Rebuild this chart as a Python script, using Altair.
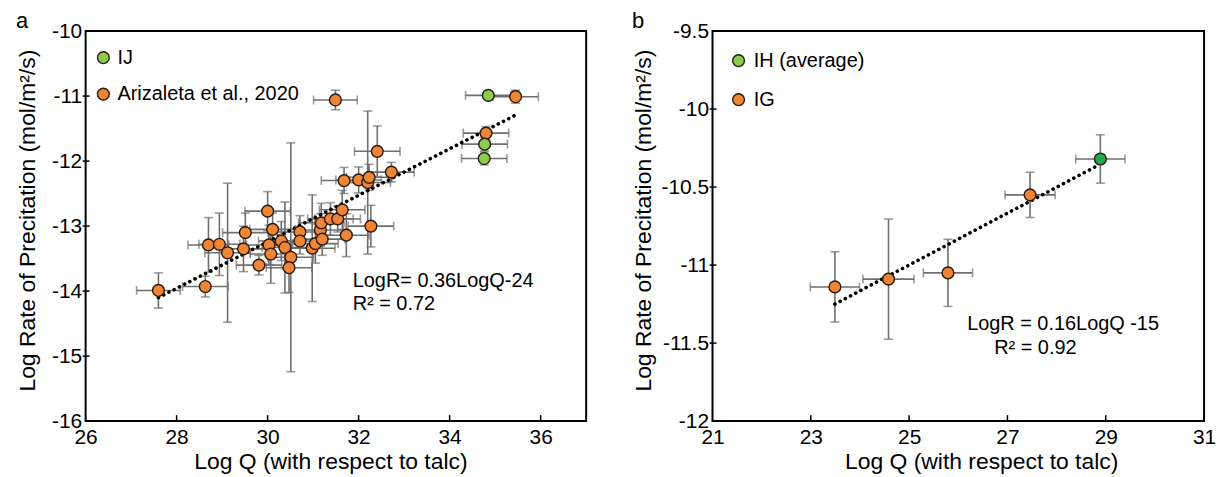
import altair as alt
import pandas as pd

FONT = "Liberation Sans"

# ---------------- Panel a data ----------------
a_q = [27.60, 28.63, 28.70, 28.94, 29.12, 29.51, 29.47, 29.81, 30.00, 30.11,
       30.03, 30.07, 30.30, 30.38, 30.51, 30.47, 30.71, 30.71, 30.98, 31.05,
       31.16, 31.18, 31.20, 31.38, 31.54, 31.64, 31.73, 31.49, 31.68, 32.00,
       32.20, 32.23, 32.27, 32.41, 32.72, 34.80, 35.45]
a_r = [-13.99, -13.93, -13.29, -13.28, -13.41, -13.10, -13.35, -13.60, -12.77, -13.05,
       -13.29, -13.43, -13.23, -13.33, -13.48, -13.64, -13.09, -13.23, -13.34, -13.27,
       -13.06, -12.95, -13.20, -12.89, -12.89, -12.75, -13.14, -11.06, -12.30, -12.29,
       -12.33, -12.25, -13.00, -11.85, -12.17, -11.57, -11.01]
a_qerr = [0.48, 0.50, 0.45, 0.45, 0.50, 0.50, 0.50, 0.50, 0.50, 0.50,
          0.50, 0.45, 0.50, 0.50, 0.50, 0.50, 0.50, 0.50, 0.50, 0.50,
          0.50, 0.50, 0.50, 0.50, 0.50, 0.50, 0.50, 0.48, 0.50, 0.50,
          0.50, 0.50, 0.50, 0.50, 0.50, 0.50, 0.50]
a_rerr = [0.27, 0.16, 0.42, 0.48, 1.07, 0.30, 0.35, 0.15, 0.30, 0.25,
          0.30, 0.45, 0.30, 0.70, 1.76, 0.38, 0.25, 0.20, 0.82, 0.30,
          0.25, 0.30, 0.25, 0.25, 0.20, 0.30, 0.33, 0.15, 0.20, 0.20,
          1.10, 0.20, 0.32, 0.39, 0.15, 0.10, 0.10]
a_ij_q = [34.85, 34.77, 34.76]
a_ij_r = [-10.99, -11.74, -11.96]
a_ij_qerr = [0.50, 0.50, 0.50]
a_ij_rerr = [0.05, 0.10, 0.10]
a_fit_q = [27.60, 35.43]
a_fit_r = [-14.10, -11.30]
a_xticks = [26, 28, 30, 32, 34, 36]
a_yticks = [-16, -15, -14, -13, -12, -11, -10]
a_leg_labels = ["IJ", "Arizaleta et al., 2020"]
a_leg_q = [26.39, 26.39]
a_leg_r = [-10.41, -10.97]
a_leg_tq = 26.70
a_note = ["LogR= 0.36LogQ-24", "R² = 0.72"]
a_note_q = [31.87, 31.87]
a_note_r = [-13.85, -14.20]

# ---------------- Panel b data ----------------
b_ig_q = [23.49, 24.58, 25.79, 27.46]
b_ig_r = [-11.14, -11.09, -11.05, -10.55]
b_ig_qerr = [0.50, 0.52, 0.50, 0.51]
b_ig_rerr = [0.225, 0.385, 0.215, 0.145]
b_ih_q = [28.89]
b_ih_r = [-10.32]
b_ih_qerr = [0.50]
b_ih_rerr = [0.155]
b_fit_q = [23.49, 28.85]
b_fit_r = [-11.25, -10.36]
b_xticks = [21, 23, 25, 27, 29, 31]
b_yticks = [-12, -11.5, -11, -10.5, -10, -9.5]
b_leg_labels = ["IH (average)", "IG"]
b_leg_q = [21.53, 21.53]
b_leg_r = [-9.69, -9.94]
b_leg_tq = 21.84
b_note = ["LogR = 0.16LogQ -15", "R² = 0.92"]
b_note_q = [26.18, 26.73]
b_note_r = [-11.38, -11.53]

ORANGE = "#F08536"
GREEN_A = "#8BCB4F"
GREEN_B = "#1FA94E"
EDGE = "#2a1a0c"
GRAY = "#6f6f6f"

XTITLE = "Log Q (with respect to talc)"
YTITLE = "Log Rate of Precitation (mol/m²/s)"


def panel(main, green, fit, xdom, xticks, ydom, yticks, leg_labels, leg_q, leg_r,
          leg_tq, leg_colors, notes, note_q, note_r, letter, green_color,
          width, height, ytitle_x, xtitle_x):
    m = pd.DataFrame({"q": main[0], "r": main[1], "qe": main[2], "re": main[3]})
    g = pd.DataFrame({"q": green[0], "r": green[1], "qe": green[2], "re": green[3]})
    allp = pd.concat([m, g], ignore_index=True)
    allp["qlo"] = allp.q - allp.qe
    allp["qhi"] = allp.q + allp.qe
    allp["rlo"] = allp.r - allp.re
    allp["rhi"] = allp.r + allp.re

    xs = alt.Scale(domain=xdom, nice=False, zero=False)
    ys = alt.Scale(domain=ydom, nice=False, zero=False)
    xa = alt.Axis(values=xticks, title=XTITLE, labelExpr="'' + datum.value",
                  labelPadding=5, titlePadding=4, titleX=xtitle_x)
    ya = alt.Axis(values=yticks, title=YTITLE, labelExpr="'' + datum.value",
                  labelPadding=4, titleX=ytitle_x, titleY=height / 2 - 6)

    def X(f):
        return alt.X(f, type="quantitative", scale=xs, axis=xa, title=XTITLE)

    def Y(f):
        return alt.Y(f, type="quantitative", scale=ys, axis=ya, title=YTITLE)

    base = alt.Chart(allp)
    vbar = base.mark_rule(color=GRAY, strokeWidth=1.6).encode(
        x=X("q"), y=Y("rlo"), y2="rhi")
    hbar = base.mark_rule(color=GRAY, strokeWidth=1.6).encode(
        x=X("qlo"), x2="qhi", y=Y("r"))
    vcap1 = base.mark_tick(color=GRAY, orient="horizontal", size=9, thickness=1.6).encode(
        x=X("q"), y=Y("rlo"))
    vcap2 = base.mark_tick(color=GRAY, orient="horizontal", size=9, thickness=1.6).encode(
        x=X("q"), y=Y("rhi"))
    hcap1 = base.mark_tick(color=GRAY, orient="vertical", size=9, thickness=1.6).encode(
        x=X("qlo"), y=Y("r"))
    hcap2 = base.mark_tick(color=GRAY, orient="vertical", size=9, thickness=1.6).encode(
        x=X("qhi"), y=Y("r"))

    fitdf = pd.DataFrame({"q": fit[0], "r": fit[1]})
    fitl = alt.Chart(fitdf).mark_line(color="black", strokeWidth=3.6,
                                      strokeDash=[0.1, 5.8], strokeCap="round").encode(
        x=X("q"), y=Y("r"))

    pm = alt.Chart(m).mark_circle(size=140, fill=ORANGE, stroke=EDGE, strokeWidth=1.4,
                                  opacity=1).encode(x=X("q"), y=Y("r"))
    pg = alt.Chart(g).mark_circle(size=140, fill=green_color, stroke=EDGE, strokeWidth=1.4,
                                  opacity=1).encode(x=X("q"), y=Y("r"))

    legdf = pd.DataFrame({"q": leg_q, "r": leg_r, "lab": leg_labels,
                          "c": leg_colors, "tq": [leg_tq] * len(leg_q)})
    legp = alt.Chart(legdf).mark_circle(size=140, stroke=EDGE, strokeWidth=1.4,
                                        opacity=1).encode(
        x=X("q"), y=Y("r"), fill=alt.Fill("c:N", scale=None))
    legt = alt.Chart(legdf).mark_text(align="left", baseline="middle", fontSize=20,
                                      font=FONT, color="black").encode(
        x=X("tq"), y=Y("r"), text="lab:N")

    notedf = pd.DataFrame({"q": note_q, "r": note_r, "t": notes})
    note = alt.Chart(notedf).mark_text(align="left", baseline="middle", fontSize=20,
                                       font=FONT, color="black").encode(
        x=X("q"), y=Y("r"), text="t:N")

    xt = pd.DataFrame({"t": xticks[1:]})
    xtick = alt.Chart(xt).mark_rule(color="black", strokeWidth=1.5).encode(
        x=X("t"), y=alt.value(height), y2=alt.value(height - 6))
    yt = pd.DataFrame({"t": yticks[1:-1]})
    ytick = alt.Chart(yt).mark_rule(color="black", strokeWidth=1.5).encode(
        y=Y("t"), x=alt.value(-3), x2=alt.value(4))

    lab = alt.Chart(pd.DataFrame({"t": [letter]})).mark_text(
        align="left", baseline="alphabetic", fontSize=22, font=FONT, color="black").encode(
        x=alt.value(ytitle_x - 24), y=alt.value(-3), text="t:N")

    return alt.layer(vbar, hbar, vcap1, vcap2, hcap1, hcap2, fitl, pm, pg,
                     legp, legt, note, xtick, ytick, lab).properties(
        width=width, height=height)


pa = panel((a_q, a_r, a_qerr, a_rerr), (a_ij_q, a_ij_r, a_ij_qerr, a_ij_rerr),
           (a_fit_q, a_fit_r), [26, 37], a_xticks, [-16, -10], a_yticks,
           a_leg_labels, a_leg_q, a_leg_r, a_leg_tq, [GREEN_A, ORANGE],
           a_note, a_note_q, a_note_r, "a", GREEN_A, 503, 392, -46, 246)
pb = panel((b_ig_q, b_ig_r, b_ig_qerr, b_ig_rerr), (b_ih_q, b_ih_r, b_ih_qerr, b_ih_rerr),
           (b_fit_q, b_fit_r), [21, 31], b_xticks, [-12, -9.5], b_yticks,
           b_leg_labels, b_leg_q, b_leg_r, b_leg_tq, [GREEN_A, ORANGE],
           b_note, b_note_q, b_note_r, "b", GREEN_B, 494, 392, -57, 270)

chart = alt.hconcat(pa, pb, spacing=44).properties(
    padding={"left": 7, "top": 0, "right": 0, "bottom": 0}
).configure(font=FONT).configure_view(
    stroke="black", strokeWidth=2
).configure_axis(
    grid=False, domain=False, ticks=False, labelFontSize=21, titleFontSize=23,
    labelColor="black", titleColor="black", titleFontWeight="normal",
    labelFont=FONT, titleFont=FONT, labelFlush=False, labelOverlap=False
)

chart.save("out.html", embed_options={"renderer": "svg", "actions": False})
